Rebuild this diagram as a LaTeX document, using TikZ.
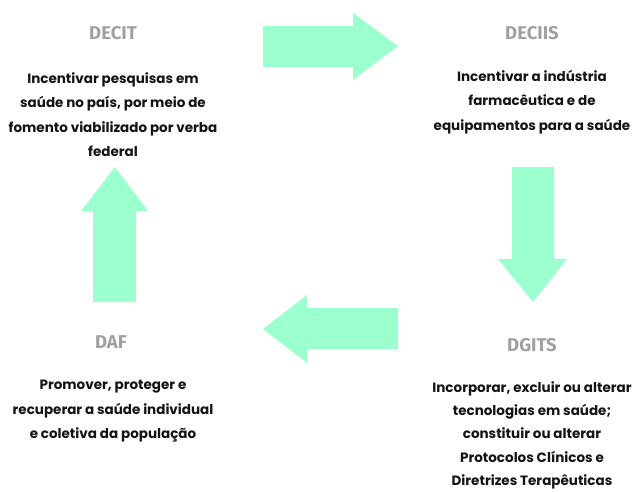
\documentclass[tikz,border=0pt]{standalone}
\usepackage{fontspec}
\setmainfont{Poppins}
\newfontfamily\headfont{Fira Sans}
\definecolor{mint}{RGB}{156,255,206}
\definecolor{headgray}{RGB}{160,160,160}
\definecolor{bodyblack}{RGB}{20,20,20}
\tikzset{
  head/.style={font=\headfont\bfseries\fontsize{18.5}{20}\selectfont, text=headgray, inner sep=0pt},
  body/.style={font=\bfseries\fontsize{13.5}{24.5}\selectfont, text=bodyblack, align=center, inner sep=0pt},
  tightbody/.style={body, font=\bfseries\fontsize{13.5}{23.4}\selectfont},
  bigarrow/.style={fill=mint, draw=none}
}
\begin{document}
\begin{tikzpicture}[x=1pt,y=-1pt]
\useasboundingbox (0,0) rectangle (636,491);
% headings
\node[head] (decit) at (113,33) {DECIT};
\node[head] (deciis) at (532,33) {DECIIS};
\node[head] (daf) at (111,342) {DAF};
\node[head] (dgits) at (532,345) {DGITS};
% bodies
\node[body, anchor=north] (decitb) at (113,72) {Incentivar pesquisas em\\saúde no país, por meio de\\fomento viabilizado por verba\\federal};
\node[body, anchor=north] (deciisb) at (532,70) {Incentivar a indústria\\farmacêutica e de\\equipamentos para a saúde};
\node[body, anchor=north] (dafb) at (113,380) {Promover, proteger e\\recuperar a saúde individual\\e coletiva da população};
\node[tightbody, anchor=north] (dgitsb) at (532,381) {Incorporar, excluir ou alterar\\tecnologias em saúde;\\constituir ou alterar\\Protocolos Clínicos e\\Diretrizes Terapêuticas};
% arrows
\fill[bigarrow] (263,26) -- (353,26) -- (353,13) -- (398,46) -- (353,80) -- (353,67) -- (263,67) -- cycle;
\fill[bigarrow] (512,167) -- (554,167) -- (554,259) -- (567,259) -- (533,302) -- (498,259) -- (512,259) -- cycle;
\fill[bigarrow] (398,308) -- (307,308) -- (307,295) -- (263,329) -- (307,363) -- (307,349) -- (398,349) -- cycle;
\fill[bigarrow] (93,302) -- (93,211) -- (81,211) -- (115,167) -- (148,211) -- (136,211) -- (136,302) -- cycle;
\end{tikzpicture}
\end{document}
